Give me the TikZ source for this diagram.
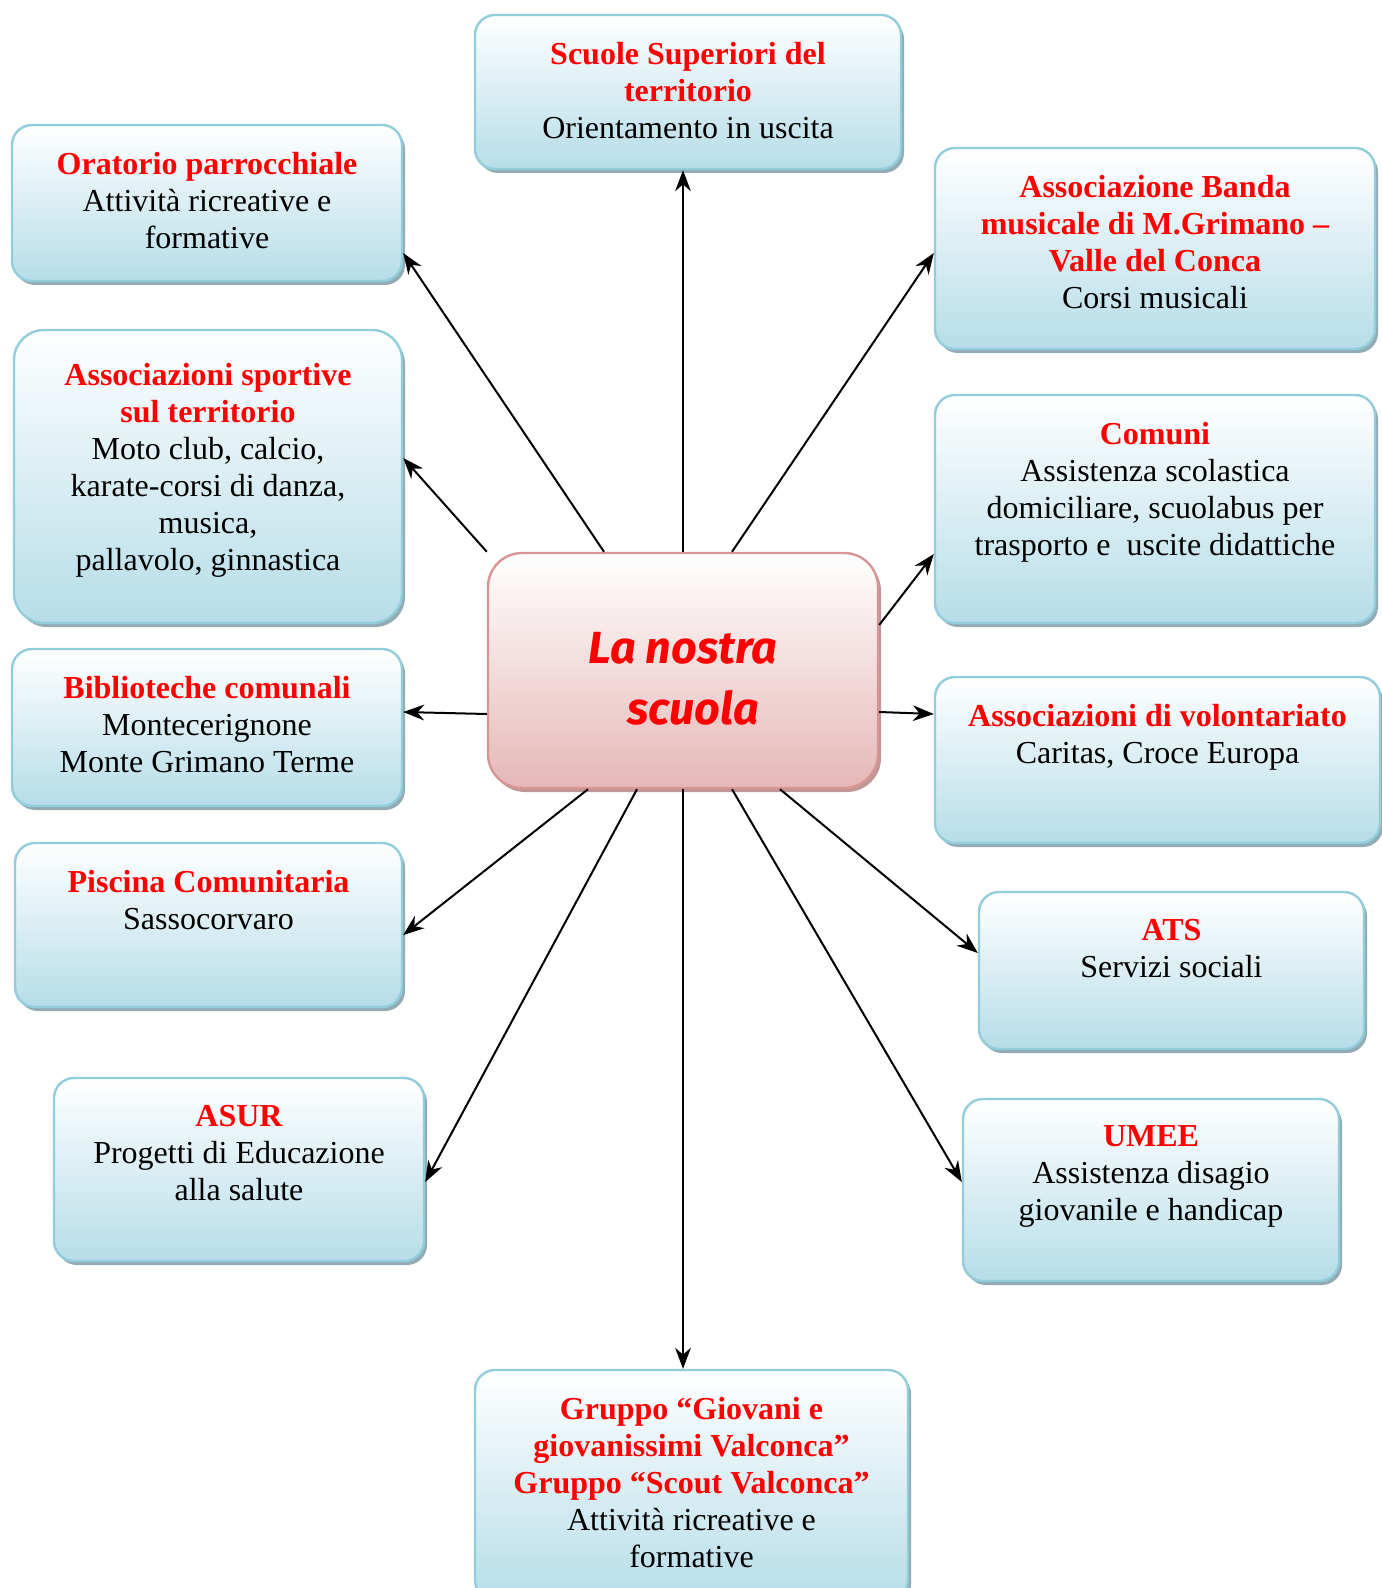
\documentclass[tikz,border=0pt]{standalone}
\usepackage{fontspec}
\setmainfont{Liberation Serif}
\newfontfamily\scuolafont{Fira Sans}
\usetikzlibrary{arrows.meta,shadows}

\definecolor{bordoAz}{HTML}{92CDDC}
\definecolor{fondoAz}{HTML}{B6DDE8}
\definecolor{ombraAz}{RGB}{120,150,160}
\definecolor{bordoRo}{HTML}{D99594}
\definecolor{fondoRo}{HTML}{E5B8B7}
\definecolor{ombraRo}{RGB}{175,125,125}
\newcommand{\titolo}{\bfseries\color{red}}

\begin{document}
\begin{tikzpicture}[
    x=0.5pt, y=-0.5pt,
    every node/.style={font=\fontsize{16}{18.5}\selectfont},
    ente/.style 2 args={draw=bordoAz, line width=1.2pt, rounded corners=10pt,
        top color=white, bottom color=fondoAz, inner sep=0pt,
        drop shadow={shadow xshift=1.5pt, shadow yshift=-2pt, fill=ombraAz, opacity=0.8},
        execute at begin node={\begin{minipage}[c][#2][t]{#1}\centering\vspace*{13.5pt}},
        execute at end node={\end{minipage}}},
    centro/.style={draw=bordoRo, line width=1.2pt, rounded corners=17pt,
        top color=white, bottom color=fondoRo, inner sep=0pt,
        drop shadow={shadow xshift=1.5pt, shadow yshift=-2pt, fill=ombraRo, opacity=0.8},
        font=\scuolafont\bfseries\itshape\fontsize{22.5}{30.5}\selectfont, text=red},
    freccia/.style={-{Stealth[scale=1.4]}, line width=1pt}
    ]

    \useasboundingbox (0,0) rectangle (1381,1588);

    % Nodi
    \node[centro] (centro) at (683,670.5)
        {\parbox[c][117.5pt][c]{195pt}{\centering\vspace*{8.5pt}La nostra\\\hspace*{10pt}scuola}};

    \node[ente={213pt}{77pt}] (scuole) at (688,92)
        {{\titolo Scuole Superiori del\\territorio}\\Orientamento in uscita};
    \node[ente={195pt}{78pt}] (oratorio) at (207,203)
        {{\titolo Oratorio parrocchiale}\\Attività ricreative e\\formative};
    \node[ente={220pt}{100.5pt}] (banda) at (1155,248.5)
        {{\titolo Associazione Banda\\musicale di M.Grimano --\\Valle del Conca}\\Corsi musicali};
    \node[ente={194pt}{146.5pt}, rounded corners=15pt] (sportive) at (208,476.5)
        {\vspace*{3pt}{\titolo Associazioni sportive\\sul territorio}\\Moto club, calcio,\\karate-corsi di danza,\\musica,\\pallavolo, ginnastica};
    \node[ente={220pt}{114pt}] (comuni) at (1155,509)
        {{\titolo Comuni}\\Assistenza scolastica\\domiciliare, scuolabus per\\trasporto e~ uscite didattiche};
    \node[ente={195pt}{78.5pt}] (biblioteche) at (207,727.5)
        {{\titolo Biblioteche comunali}\\Montecerignone\\Monte Grimano Terme};
    \node[ente={222.5pt}{83pt}] (volontariato) at (1157.5,760)
        {{\titolo Associazioni di volontariato}\\Caritas, Croce Europa};
    \node[ente={193.5pt}{82pt}] (piscina) at (208.5,925)
        {{\titolo Piscina Comunitaria}\\Sassocorvaro};
    \node[ente={192.5pt}{78.5pt}] (ats) at (1171.5,970.5)
        {{\titolo ATS}\\Servizi sociali};
    \node[ente={185pt}{91.5pt}] (asur) at (239,1169.5)
        {{\titolo ASUR}\\Progetti di Educazione\\alla salute};
    \node[ente={188pt}{91pt}] (umee) at (1151,1190)
        {{\titolo UMEE}\\Assistenza disagio\\giovanile e handicap};
    \node[ente={216.5pt}{115pt}] (gruppo) at (691.5,1485)
        {{\titolo Gruppo “Giovani e\\giovanissimi Valconca”\\Gruppo “Scout Valconca”}\\Attività ricreative e\\formative};

    % Frecce
    \draw[freccia] (centro.north) -- (centro.north |- scuole.south);
    \draw[freccia] ([xshift=-39.5pt]centro.north) -- ([yshift=-25pt]oratorio.east);
    \draw[freccia] ([xshift=24.5pt]centro.north) -- ([yshift=-2.25pt]banda.west);
    \draw[freccia] (centro.north west) -- ([yshift=9.25pt]sportive.east);
    \draw[freccia] ([yshift=22.75pt]centro.east) -- ([yshift=-22.5pt]comuni.west);
    \draw[freccia] ([yshift=-21.75pt]centro.west) -- ([yshift=7.75pt]biblioteche.east);
    \draw[freccia] ([yshift=-20.75pt]centro.east) -- ([yshift=23pt]volontariato.west);
    \draw[freccia] ([xshift=-47.5pt]centro.south) -- ([yshift=-5pt]piscina.east);
    \draw[freccia] ([xshift=48.5pt]centro.south) -- ([yshift=8.75pt]ats.west);
    \draw[freccia] ([xshift=-23pt]centro.south) -- ([yshift=-6.25pt]asur.east);
    \draw[freccia] ([xshift=24.5pt]centro.south) -- ([yshift=4pt]umee.west);
    \draw[freccia] (centro.south) -- (centro.south |- gruppo.north);

\end{tikzpicture}
\end{document}
